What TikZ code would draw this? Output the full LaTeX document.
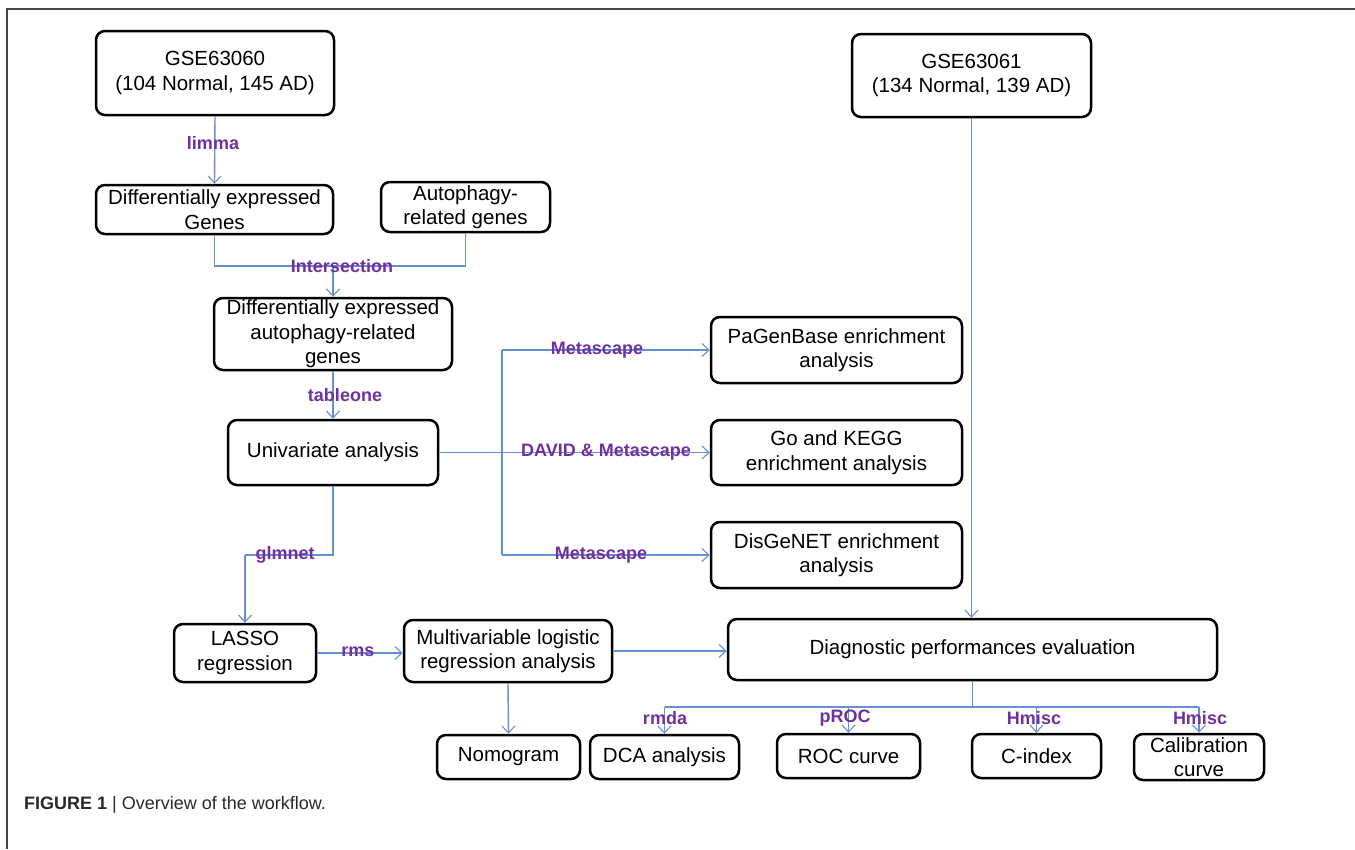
\documentclass[tikz,border=0pt]{standalone}
\usepackage{fontspec}
\setmainfont{Liberation Sans}
\usetikzlibrary{arrows.meta}
\definecolor{lnblue}{RGB}{100,145,210}
\definecolor{lblpurple}{RGB}{112,48,160}
\definecolor{framec}{RGB}{70,70,70}
\definecolor{capc}{RGB}{40,40,40}
\newcommand\boxfont{\fontsize{20.5}{24.5}\selectfont}
\newcommand\lblfont{\fontsize{18}{20}\selectfont\bfseries}
\tikzset{
  box/.style={draw=black, line width=2.5pt, rounded corners=9pt, align=center,
    inner sep=0pt, font=\boxfont, text=black},
  wire/.style={draw=lnblue, line width=1.4pt},
  conn/.style={wire, -{Straight Barb[length=7pt,width=13pt,line width=1.1pt]}},
  lbl/.style={text=lblpurple, font=\lblfont, inner sep=0pt}
}
\begin{document}
\begin{tikzpicture}[x=1pt,y=-1pt]
\useasboundingbox (0,0) rectangle (1355,849);
\draw[framec, line width=1.5pt] (7,849) -- (7,9) -- (1355,9);

% boxes
\node[box, minimum width=238pt, minimum height=84pt] (A) at (215,73) {GSE63060\\(104 Normal, 145 AD)};
\node[box, minimum width=239pt, minimum height=83pt] (B) at (971.5,75.5) {GSE63061\\(134 Normal, 139 AD)};
\node[box, minimum width=237pt, minimum height=49pt] (C) at (214.5,209.5) {Differentially expressed\\Genes};
\node[box, minimum width=169pt, minimum height=50pt] (D) at (465.5,207) {Autophagy-\\related genes};
\node[box, minimum width=238pt, minimum height=72pt] (E) at (333,334) {Differentially expressed\\autophagy-related\\genes};
\node[box, minimum width=210pt, minimum height=65pt] (F) at (333,452.5) {Univariate analysis};
\node[box, minimum width=251pt, minimum height=66pt] (G) at (836.5,350) {PaGenBase enrichment\\analysis};
\node[box, minimum width=251pt, minimum height=65pt] (H) at (836.5,452.5) {Go and KEGG\\enrichment analysis};
\node[box, minimum width=251pt, minimum height=66pt] (I) at (836.5,555) {DisGeNET enrichment\\analysis};
\node[box, minimum width=142pt, minimum height=58pt] (J) at (245,653) {LASSO\\regression};
\node[box, minimum width=208pt, minimum height=62pt] (K) at (508,651) {Multivariable logistic\\regression analysis};
\node[box, minimum width=489pt, minimum height=61pt] (L) at (972.5,649.5) {Diagnostic performances evaluation};
\node[box, minimum width=143pt, minimum height=44pt] (M) at (508.5,757) {Nomogram};
\node[box, minimum width=149pt, minimum height=44pt] (N) at (664.5,757) {DCA analysis};
\node[box, minimum width=143pt, minimum height=44pt] (O) at (848.5,756) {ROC curve};
\node[box, minimum width=129pt, minimum height=44pt] (P) at (1036.5,756) {C-index};
\node[box, minimum width=130pt, minimum height=46pt] (Q) at (1199,757) {Calibration\\curve};

% connectors
\draw[conn] (A.south) -- (C.north);
\coordinate (m1) at (214.5,266);
\coordinate (m2) at (465.5,266);
\coordinate (mc) at (333,266);
\draw[wire] (C.south) -- (m1) -- (m2) -- (D.south);
\draw[conn] (mc) -- (E.north);
\draw[conn] (E.south) -- (F.north);

\coordinate (br) at (502,452.5);
\coordinate (bt) at (502,350);
\coordinate (bb) at (502,555);
\draw[wire] (F.east) -- (br);
\draw[wire] (bt) -- (bb);
\draw[conn] (br) -- (H.west);
\draw[conn] (bt) -- (G.west);
\draw[conn] (bb) -- (I.west);

\coordinate (g1) at (245,555);
\draw[wire] (F.south) |- (g1);
\draw[conn] (g1) -- (J.north);
\draw[conn] (J.east) -- (J.east -| K.west);
\draw[conn] (K.east) -- (K.east -| L.west);
\draw[conn] (K.south) -- (M.north);
\draw[conn] (B.south) -- (B.south |- L.north);

\coordinate (lb) at (972.5,707);
\coordinate (h1) at (664.5,707);
\coordinate (h2) at (848.5,707);
\coordinate (h3) at (1036.5,707);
\coordinate (h4) at (1199,707);
\draw[wire] (L.south) -- (lb);
\draw[wire] (h1) -- (h4);
\draw[conn] (h1) -- (N.north);
\draw[conn] (h2) -- (O.north);
\draw[conn] (h3) -- (P.north);
\draw[conn] (h4) -- (Q.north);

% labels
\node[lbl] (t1) at (213,143) {limma};
\node[lbl] (t2) at (342,266) {Intersection};
\node[lbl] (t3) at (345,395) {tableone};
\node[lbl] (t4) at (597,350) {Metascape};
\node[lbl] (t5) at (606,452.5) {DAVID \& Metascape};
\node[lbl] (t6) at (601,555) {Metascape};
\node[lbl] (t7) at (285,555) {glmnet};
\node[lbl] (t8) at (358,652) {rms};
\node[lbl] (t9) at (665,718) {rmda};
\node[lbl] (t10) at (845,718) {pROC};
\node[lbl] (t11) at (1034,718) {Hmisc};
\node[lbl] (t12) at (1200,718) {Hmisc};

% caption
\node[anchor=base west, inner sep=0pt, text=capc, font=\fontsize{18}{21}\selectfont] (cap) at (24,809) {\textbf{FIGURE 1} | Overview of the workflow.};
\end{tikzpicture}
\end{document}
